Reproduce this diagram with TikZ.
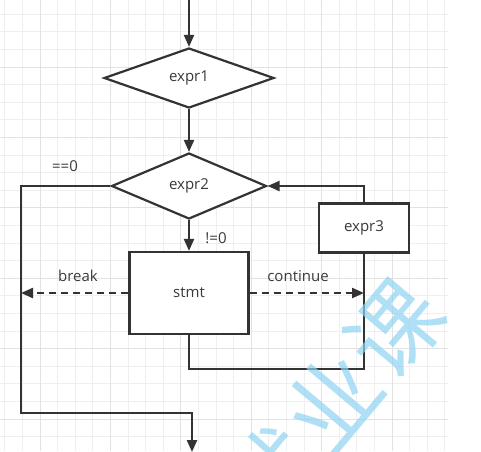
\documentclass[tikz,border=0pt]{standalone}
\usepackage{fontspec}
\setmainfont{Open Sans}
\newfontfamily\cjkwm{Noto Sans CJK SC}
\usetikzlibrary{shapes.geometric,arrows.meta}
\definecolor{ink}{HTML}{333333}
\definecolor{txt}{HTML}{3A3A3A}
\definecolor{gridlight}{HTML}{EFEFEF}
\definecolor{gridheavy}{HTML}{E2E2E2}
\definecolor{wmblue}{HTML}{8FD3F2}
\tikzset{
  conn/.style={draw=ink, line width=2.2pt},
  arr/.style={conn, -{Triangle[length=12pt,width=10pt]}},
  dasharr/.style={arr, dash pattern=on 7pt off 5pt},
  decision/.style={diamond, draw=ink, line width=2.2pt, fill=white, inner sep=0pt,
    font=\fontsize{15}{17}\selectfont, text=txt},
  procbox/.style={rectangle, draw=ink, line width=2.2pt, fill=white, inner sep=0pt,
    font=\fontsize{15}{17}\selectfont, text=txt},
  lbl/.style={font=\fontsize{15}{17}\selectfont, text=txt, inner sep=0pt}
}
\begin{document}
\begin{tikzpicture}[x=1pt,y=-1pt]
\useasboundingbox (0,0) rectangle (481,451);
\fill[white] (0,0) rectangle (481,451);
% grid
\foreach \i in {0,...,25} {
  \pgfmathsetmacro\gx{4.8+17.6*\i}
  \draw[gridlight, line width=1pt] (\gx,0) -- (\gx,451);
}
\foreach \i in {0,...,26} {
  \pgfmathsetmacro\gy{-3.4+17.6*\i}
  \draw[gridlight, line width=1pt] (0,\gy) -- (448,\gy);
}
\foreach \i in {0,...,5} {
  \pgfmathsetmacro\gx{40+70.4*\i}
  \draw[gridheavy, line width=1pt] (\gx,0) -- (\gx,451);
}
\foreach \i in {-1,...,5} {
  \pgfmathsetmacro\gy{67+70.4*\i}
  \draw[gridheavy, line width=1pt] (0,\gy) -- (448,\gy);
}
% nodes
\coordinate (start) at (189,0);
\node[decision, minimum width=170pt, minimum height=60pt] (e1) at (189,78) {expr1};
\node[decision, minimum width=155pt, minimum height=66pt] (e2) at (189,186) {expr2};
\node[procbox, minimum width=119pt, minimum height=82pt] (stmt) at (189,293) {stmt};
\node[procbox, minimum width=90pt, minimum height=49pt] (e3) at (364,228) {expr3};
\coordinate (lt) at (21,186);
\coordinate (lb) at (21,413);
\coordinate (bt) at (192,413);
\coordinate (finish) at (192,452);
\coordinate (loop) at (0,369);
% connectors
\draw[arr] (start) -- (e1);
\draw[arr] (e1) -- (e2);
\draw[arr] (e2) -- (stmt);
\draw[arr] (e2.west) -- (lt) -- (lb) -- (bt) -- (finish);
\draw[dasharr] (stmt.west) -- (stmt.west -| lt);
\draw[dasharr] (stmt.east) -- (stmt.east -| e3);
\draw[arr] (e3.north) |- (e2.east);
\draw[conn] (stmt.south) -- (stmt.south |- loop) -| (e3.south);
% labels
\node[lbl] (lz) at (65,166) {==0};
\node[lbl] (lnz) at (216,238) {!=0};
\node[lbl] (lbrk) at (78,276) {break};
\node[lbl] (lcont) at (298,276) {continue};
% watermark
\begin{scope}
\clip (0,0) rectangle (481,451);
\node[text=wmblue, opacity=0.7, rotate=50, inner sep=0pt,
  font=\cjkwm\fontsize{92}{92}\selectfont] (wm) at (333,402) {就\hspace{4pt}业\hspace{4pt}课};
\end{scope}
\end{tikzpicture}
\end{document}
